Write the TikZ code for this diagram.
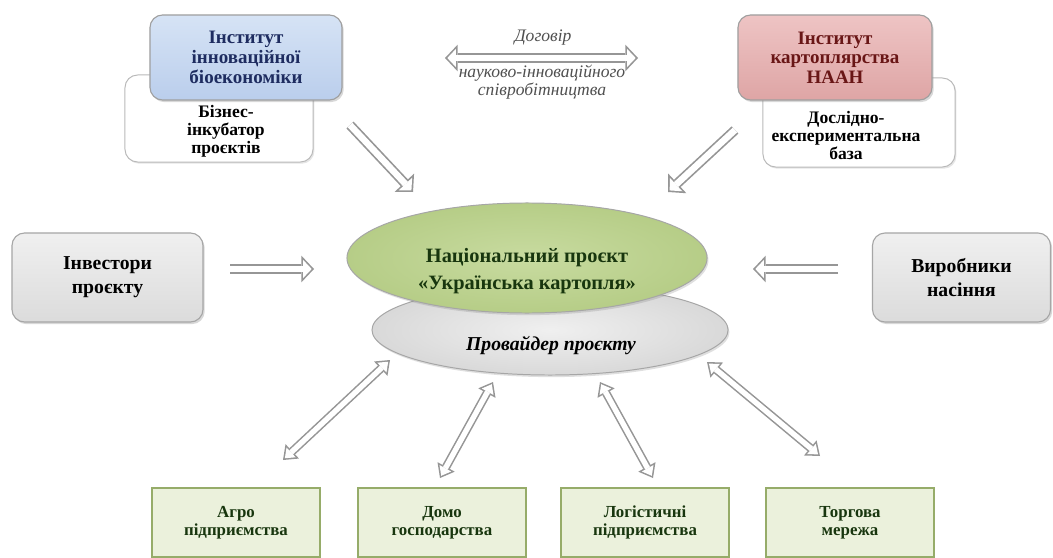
\documentclass[tikz,border=0pt]{standalone}
\usepackage{fontspec}
\setmainfont{Liberation Serif}
\usetikzlibrary{arrows.meta,positioning,shapes.geometric,shadows}
\definecolor{ibtop}{RGB}{214,227,245}
\definecolor{ibbot}{RGB}{186,206,236}
\definecolor{ibtext}{RGB}{30,44,96}
\definecolor{iktop}{RGB}{238,196,196}
\definecolor{ikbot}{RGB}{222,165,165}
\definecolor{iktext}{RGB}{105,22,22}
\definecolor{npin}{RGB}{200,219,160}
\definecolor{npout}{RGB}{182,205,135}
\definecolor{nptext}{RGB}{24,54,14}
\definecolor{bxfill}{RGB}{235,241,220}
\definecolor{bxedge}{RGB}{150,172,105}
\definecolor{arrgray}{RGB}{150,150,150}
\definecolor{midtext}{RGB}{80,80,80}

\tikzset{
  bigG/.tip={Triangle[length=9pt,width=19pt,line width=0pt]},
  bigW/.tip={Triangle[length=6.15pt,width=13pt,line width=0pt]},
  smlG/.tip={Triangle[length=9pt,width=14pt,line width=0pt]},
  smlW/.tip={Triangle[length=6.1pt,width=9.5pt,line width=0pt]},
  fatarrow/.style={preaction={draw=arrgray,line width=7pt,shorten >=0pt,-bigG},
    draw=white,line width=4.6pt,shorten >=1.65pt,-bigW},
  fatdbl/.style={preaction={draw=arrgray,line width=7pt,shorten >=0pt,shorten <=0pt,bigG-bigG},
    draw=white,line width=4.6pt,shorten >=1.65pt,shorten <=1.65pt,bigW-bigW},
  thindbl/.style={preaction={draw=arrgray,line width=6pt,shorten >=0pt,shorten <=0pt,smlG-smlG},
    draw=white,line width=3.8pt,shorten >=1.8pt,shorten <=1.8pt,smlW-smlW}
}

\begin{document}
\begin{tikzpicture}[x=0.025cm,y=-0.025cm,
    inst/.style={rounded corners=9pt,draw=gray!75,line width=0.8pt,
      minimum width=4.8cm,minimum height=2.125cm,align=center,
      font=\bfseries\fontsize{13.5}{14}\selectfont,
      drop shadow={opacity=0.3,shadow xshift=1.2pt,shadow yshift=-1.5pt}},
    backbox/.style={rounded corners=9pt,draw=gray!55,line width=0.7pt,fill=white,
      drop shadow={opacity=0.2,shadow xshift=1pt,shadow yshift=-1.2pt}},
    backtxt/.style={align=center,font=\bfseries\fontsize{12.5}{12.8}\selectfont},
    agrtxt/.style={align=center,text=midtext,font=\itshape\fontsize{12.5}{13.2}\selectfont},
    side/.style={rounded corners=9pt,draw=gray!70,line width=0.8pt,
      top color=gray!12,bottom color=gray!28,
      minimum width=4.775cm,minimum height=2.225cm,align=center,
      font=\bfseries\fontsize{14}{17}\selectfont,
      drop shadow={opacity=0.3,shadow xshift=1.2pt,shadow yshift=-1.5pt}},
    projell/.style={ellipse,draw=gray!70,line width=0.7pt,inner color=npin,outer color=npout,
      minimum width=9cm,minimum height=2.75cm,inner sep=0pt,
      drop shadow={opacity=0.25,shadow xshift=1pt,shadow yshift=-1.5pt}},
    projtxt/.style={align=center,text=nptext,font=\bfseries\fontsize{14.5}{19}\selectfont},
    provell/.style={ellipse,draw=gray!70,line width=0.7pt,inner color=gray!12,outer color=gray!30,
      minimum width=8.9cm,minimum height=2.25cm,inner sep=0pt,
      drop shadow={opacity=0.25,shadow xshift=1pt,shadow yshift=-1.5pt}},
    provtxt/.style={font=\bfseries\itshape\fontsize{14}{16}\selectfont},
    unit/.style={draw=bxedge,line width=1.6pt,fill=bxfill,
      minimum width=4.2cm,minimum height=1.725cm,align=center,text=nptext,
      font=\bfseries\fontsize{12}{13}\selectfont,
      drop shadow={opacity=0.25,shadow xshift=1pt,shadow yshift=-1.2pt}}]

  \path[use as bounding box,fill=white] (0,0) rectangle (1053,558);

  % white boxes behind the institutes
  \node[backbox,minimum width=4.7cm,minimum height=2.175cm] (biz) at (219,118.5) {};
  \node[backtxt] at (226,131) {Бізнес-\\інкубатор\\проєктів};
  \node[backbox,minimum width=4.8cm,minimum height=2.225cm] (dosl) at (859,122.5) {};
  \node[backtxt] at (846,135) {Дослідно-\\експериментальна\\база};

  % institutes
  \node[inst,top color=ibtop,bottom color=ibbot,text=ibtext] (iib) at (246,57.5)
    {Інститут\\інноваційної\\біоекономіки};
  \node[inst,minimum width=4.85cm,top color=iktop,bottom color=ikbot,text=iktext] (ikn) at (835,57.5)
    {Інститут\\картоплярства\\НААН};

  % agreement between the institutes
  \coordinate (dgL) at (445,58);
  \coordinate (dgR) at (638,58);
  \draw[fatdbl] (dgL) -- (dgR);
  \node[agrtxt] at (543,38) {Договір};
  \node[agrtxt] at (542,82) {науково-інноваційного\\співробітництва};

  % investors and seed producers
  \node[side] (inv) at (107.5,277.5) {Інвестори\\проєкту};
  \node[side,minimum width=4.45cm] (vyr) at (961.5,277.5) {Виробники\\насіння};

  % project and its provider
  \node[provell] (prov) at (550,330) {};
  \node[provtxt] at (551,346) {Провайдер проєкту};
  \node[projell] (proj) at (527,258) {};
  \node[projtxt] at (527,271) {Національний проєкт\\«Українська картопля»};

  % inflows to the project
  \coordinate (inA) at (350,125);  \coordinate (inAe) at (413,192);
  \coordinate (inB) at (735,130);  \coordinate (inBe) at (668,192);
  \coordinate (inC) at (230,269);  \coordinate (inCe) at (314,269);
  \coordinate (inD) at (838,269);  \coordinate (inDe) at (753,269);
  \draw[fatarrow] (inA) -- (inAe);
  \draw[fatarrow] (inB) -- (inBe);
  \draw[fatarrow] (inC) -- (inCe);
  \draw[fatarrow] (inD) -- (inDe);

  % partners
  \node[unit] (agro) at (236,522.5) {Агро\\підприємства};
  \node[unit] (domo) at (442,522.5) {Домо\\господарства};
  \node[unit] (logi) at (645,522.5) {Логістичні\\підприємства};
  \node[unit] (torg) at (850,522.5) {Торгова\\мережа};

  % links between provider and partners
  \coordinate (lkA) at (283,460);  \coordinate (lkAe) at (390,360);
  \coordinate (lkB) at (440,478);  \coordinate (lkBe) at (493,382);
  \coordinate (lkC) at (653,478);  \coordinate (lkCe) at (600,382);
  \coordinate (lkD) at (820,456);  \coordinate (lkDe) at (707,362);
  \draw[thindbl] (lkA) -- (lkAe);
  \draw[thindbl] (lkB) -- (lkBe);
  \draw[thindbl] (lkC) -- (lkCe);
  \draw[thindbl] (lkD) -- (lkDe);
\end{tikzpicture}
\end{document}
